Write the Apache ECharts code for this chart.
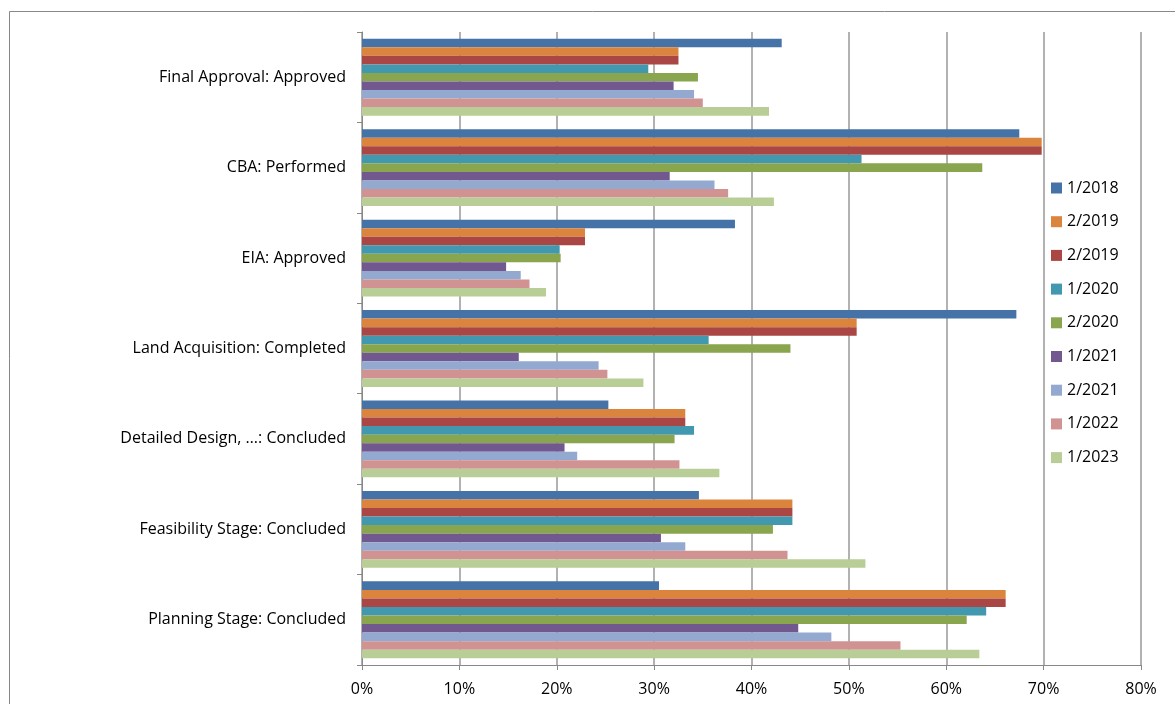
<!DOCTYPE html>
<html>
<head>
<meta charset="utf-8">
<script src="https://cdn.jsdelivr.net/npm/echarts@6/dist/echarts.min.js"></script>
<style>
html,body{margin:0;padding:0;background:#fff;}
#chart{width:1175px;height:704px;}
</style>
</head>
<body>
<div id="chart"></div>
<script>
// Categories listed top to bottom as in the reference
var categories = [
  'Final Approval: Approved',
  'CBA: Performed',
  'EIA: Approved',
  'Land Acquisition: Completed',
  'Detailed Design, \u2026: Concluded',
  'Feasibility Stage: Concluded',
  'Planning Stage: Concluded'
];
var seriesNames = ['1/2018', '2/2019', '2/2019 ', '1/2020', '2/2020', '1/2021', '2/2021', '1/2022', '1/2023'];
var seriesColors = ['#4572A7', '#DB843D', '#AA4643', '#4198AF', '#89A54E', '#71588F', '#93A9CF', '#D19392', '#B9CD96'];
// values (%) per series, in category order above
var s2018a = [43.1, 67.5, 38.3, 67.2, 25.3, 34.6, 30.5];
var s2019a = [32.5, 69.8, 22.9, 50.8, 33.2, 44.2, 66.1];
var s2019b = [32.5, 69.8, 22.9, 50.8, 33.2, 44.2, 66.1];
var s2020a = [29.4, 51.3, 20.3, 35.6, 34.1, 44.2, 64.1];
var s2020b = [34.5, 63.7, 20.4, 44.0, 32.1, 42.2, 62.1];
var s2021a = [32.0, 31.6, 14.8, 16.1, 20.8, 30.7, 44.8];
var s2021b = [34.1, 36.2, 16.3, 24.3, 22.1, 33.2, 48.2];
var s2022a = [35.0, 37.6, 17.2, 25.2, 32.6, 43.7, 55.3];
var s2023a = [41.8, 42.3, 18.9, 28.9, 36.7, 51.7, 63.4];
var xTicks = [0, 10, 20, 30, 40, 50, 60, 70, 80];

var allValues = [s2018a, s2019a, s2019b, s2020a, s2020b, s2021a, s2021b, s2022a, s2023a];
var FONT = '"Open Sans", Lato, sans-serif';

var series = seriesNames.map(function (n, i) {
  return {
    name: n,
    type: 'bar',
    data: allValues[i],
    barGap: '0%',
    barCategoryGap: '15%',
    itemStyle: { color: seriesColors[i] }
  };
});

var chart = echarts.init(document.getElementById('chart'), null, {renderer: 'canvas'});
chart.setOption({
  animation: false,
  backgroundColor: '#fff',
  color: seriesColors,
  grid: { left: 362, right: 34, top: 32, bottom: 39, containLabel: false },
  legend: {
    orient: 'vertical',
    left: 1046,
    top: 175,
    itemWidth: 11,
    itemHeight: 11,
    itemGap: 17.7,
    icon: 'rect',
    data: seriesNames,
    textStyle: { fontFamily: FONT, fontSize: 16, color: '#000' }
  },
  xAxis: {
    type: 'value',
    min: xTicks[0],
    max: xTicks[xTicks.length - 1],
    interval: 10,
    axisLine: { show: true, lineStyle: { color: '#888', width: 1 } },
    axisTick: { show: true, length: 5, lineStyle: { color: '#888' } },
    axisLabel: { formatter: '{value}%', fontFamily: FONT, fontSize: 16, color: '#000', margin: 16 },
    splitLine: { show: true, lineStyle: { color: '#999', width: 1.5 } }
  },
  yAxis: {
    type: 'category',
    inverse: true,
    data: categories,
    axisLine: { show: true, lineStyle: { color: '#888', width: 1 } },
    axisTick: { show: true, length: 5, lineStyle: { color: '#888' } },
    axisLabel: { fontFamily: FONT, fontSize: 16, color: '#000', margin: 16 }
  },
  graphic: [{
    type: 'rect',
    shape: { x: 9.5, y: 11.5, width: 1400, height: 900 },
    style: { fill: null, stroke: '#888', lineWidth: 1 },
    silent: true,
    z: -1
  }],
  series: series
});
</script>
</body>
</html>
